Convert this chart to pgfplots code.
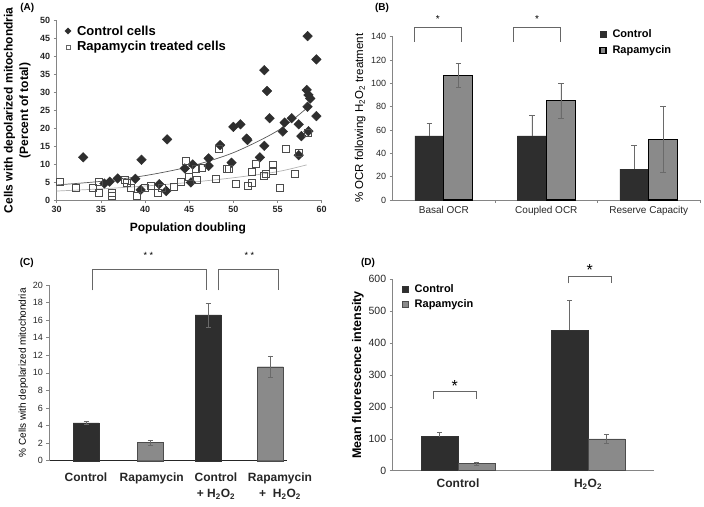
\documentclass[border=0pt]{standalone}
\usepackage{pgfplots}
\pgfplotsset{compat=1.18}
\usepackage{fontspec}
\setmainfont{Liberation Sans}
\definecolor{darkbar}{HTML}{2E2E2E}
\definecolor{graybar}{HTML}{8A8A8A}
\definecolor{axgray}{HTML}{858585}
\definecolor{errgray}{HTML}{6A6A6A}
\pgfplotsset{
  base/.style={scale only axis, axis lines*=left, clip=false,
    axis line style={axgray, line width=0.6pt},
    tick style={axgray, line width=0.6pt}, tick align=outside, major tick length=3pt,
    /pgf/number format/assume math mode=true,
    tick label style={text=black!85}},
  legdiam/.style={legend image code/.code={\draw[##1, mark size=2.2pt] plot coordinates {(4pt,0pt)};}},
  legsq/.style={legend image code/.code={\draw[##1, mark size=2.2pt, mark options={fill=black!30, draw=black!60}] plot coordinates {(4pt,0pt)};}},
  legbox/.style={legend image code/.code={\draw[##1] (0pt,-3pt) rectangle (6pt,3pt);}},
  legsp/.style={legend style={/tikz/every odd column/.append style={column sep=4pt}}},
}
\begin{document}
\begin{tikzpicture}
\useasboundingbox (0,0) rectangle (704pt,506pt);
% ---------------- Panel A ----------------
\begin{axis}[base, at={(56.7pt,306pt)}, anchor=south west, width=265pt, height=179.3pt,
  xmin=30, xmax=60, ymin=0, ymax=50, xtick={30,35,...,60}, ytick={0,5,...,50},
  tick label style={font=\fontsize{9pt}{10pt}\selectfont\bfseries},
  xlabel={Population doubling},
  xlabel style={font=\fontsize{12pt}{14pt}\selectfont\bfseries, at={(axis description cs:0.495,-0.156)}, anchor=center},
  ylabel={Cells with depolarized mitochondria\\(Percent of total)},
  ylabel style={align=center, font=\fontsize{12pt}{15.5pt}\selectfont\bfseries, at={(axis description cs:-0.149,0.5)}, anchor=center},
  legend style={at={(axis description cs:0.03,0.985)}, anchor=north west, draw=none, fill=none,
    font=\fontsize{13pt}{15pt}\selectfont\bfseries, row sep=1pt, inner sep=0pt},
  legend cell align=left, legsp]
\addplot[only marks, mark=square*, mark size=3.4pt, mark options={rotate=45, fill=darkbar, draw=darkbar}, legdiam]
coordinates {
(33.0,11.9) (35.4,4.6) (36.0,5.1) (36.9,6.0) (38.9,5.9) (39.5,2.8) (39.6,11.2)
(41.6,4.4) (42.4,2.5) (42.5,16.9) (44.5,8.8) (45.4,9.9) (45.2,4.9) (47.2,11.6)
(47.2,9.5) (48.5,15.3) (49.8,10.4) (50.0,20.4) (50.8,21.1) (51.5,17.1) (51.6,16.7)
(53.0,11.9) (53.5,15.1) (53.5,36.2) (53.8,30.4) (54.1,22.8) (55.6,19.1) (55.8,21.6)
(56.6,22.8) (57.4,21.1) (57.4,12.5) (57.7,17.8) (58.3,30.7) (58.4,45.7) (58.4,26.0)
(58.5,29.3) (58.5,19.2) (58.7,28.3) (59.4,39.2) (59.4,23.4)
};
\addlegendentry{Control cells}
\addplot[only marks, mark=square, mark size=3.5pt, mark options={draw=black!70, fill=white, line width=0.6pt}, legsq]
coordinates {
(30.3,5.1) (32.2,3.5) (34.1,3.3) (34.8,5.1) (34.8,1.9) (36.2,1.9) (36.2,1.1)
(37.7,5.6) (37.9,4.8) (38.4,3.5) (39.1,1.1) (40.0,3.5) (40.7,3.9) (41.5,2.0)
(41.9,3.4) (43.3,3.7) (44.0,5.1) (44.6,11.0) (45.0,6.5) (45.7,8.6) (45.9,5.6)
(46.4,9.0) (48.0,6.0) (48.3,14.4) (49.2,8.6) (49.5,8.6) (50.3,4.6) (51.6,4.0)
(52.1,4.8) (52.1,7.9) (52.5,10.0) (53.5,6.7) (53.7,7.2) (54.5,9.8) (54.5,8.2)
(55.2,3.5) (55.9,14.2) (56.9,7.4) (57.4,13.2) (58.4,18.6)
};
\addlegendentry{Rapamycin treated cells}
\addplot[smooth, no marks, black!65, line width=0.7pt, forget plot] coordinates {
(30,4.2) (35,5.2) (40,6.8) (45,9.3) (50,13.2) (55,19.3) (58.5,26.0)};
\addplot[smooth, no marks, black!30, line width=0.7pt, forget plot] coordinates {
(30,2.5) (35,3.1) (40,3.9) (45,4.9) (50,6.2) (55,7.9) (58.3,9.8)};
\end{axis}
% ---------------- Panel B ----------------
\begin{axis}[base, at={(392.7pt,306pt)}, anchor=south west, width=307.3pt, height=163.3pt,
  ymin=0, ymax=140, ytick={0,20,...,140}, xmin=-0.5, xmax=2.5,
  xtick={0,1,2}, xticklabels={Basal OCR, Coupled OCR, Reserve Capacity},
  major x tick style={draw=none}, minor xtick={0.5,1.5,2.5},
  y tick label style={font=\fontsize{9pt}{10pt}\selectfont},
  x tick label style={font=\fontsize{10pt}{12pt}\selectfont},
  ylabel={\% OCR following H\textsubscript{2}O\textsubscript{2} treatment},
  ylabel style={font=\fontsize{11.5pt}{13pt}\selectfont, at={(axis description cs:-0.106,0.5)}, anchor=center},
  ybar=0pt, bar width=29pt,
  legend style={at={(axis description cs:0.672,1.06)}, anchor=north west, draw=none, fill=none,
    font=\fontsize{11pt}{13pt}\selectfont\bfseries, row sep=3pt, inner sep=0pt},
  legend cell align=left, legbox, legsp]
\addplot[fill=darkbar, draw=darkbar, error bars/.cd, y dir=plus, y explicit,
  error bar style={errgray, line width=0.5pt}, error mark options={rotate=90, mark size=2.8pt, errgray}]
coordinates {(0,55) +- (0,11) (1,55) +- (0,18) (2,26.5) +- (0,20.5)};
\addlegendentry{Control}
\addplot[fill=graybar, draw=black, line width=1.1pt, error bars/.cd, y dir=both, y explicit,
  error bar style={errgray, line width=0.5pt}, error mark options={rotate=90, mark size=2.8pt, errgray}]
coordinates {(0,107) +- (0,10) (1,85) +- (0,15) (2,52) +- (0,28)};
\addlegendentry{Rapamycin}
\draw[black!60, line width=0.7pt] (axis cs:-0.285,135.7) |- (axis cs:0.17,148) -- (axis cs:0.17,135.7);
\draw[black!60, line width=0.7pt] (axis cs:0.68,135.7) |- (axis cs:1.14,148) -- (axis cs:1.14,135.7);
\node[font=\fontsize{10pt}{12pt}\selectfont] at (axis cs:-0.06,155) {*};
\node[font=\fontsize{10pt}{12pt}\selectfont] at (axis cs:0.91,155) {*};
\end{axis}
% ---------------- Panel C ----------------
\begin{axis}[base, at={(49.3pt,45.3pt)}, anchor=south west, width=237.7pt, height=175.7pt,
  xmin=0, xmax=237.7, ymin=0, ymax=20, ytick={0,2,...,20},
  xtick={36.7,102.4,166.7,230.7},
  xticklabels={Control, Rapamycin, Control\\+ H\textsubscript{2}O\textsubscript{2}, Rapamycin\\+\ \ H\textsubscript{2}O\textsubscript{2}},
  x tick label style={font=\fontsize{12pt}{16pt}\selectfont\bfseries, align=center, text=black!85, yshift=-6pt},
  y tick label style={font=\fontsize{9pt}{10pt}\selectfont},
  x axis line style={black!85, line width=1.5pt}, major x tick style={draw=none},
  ylabel={\% Cells with depolarized mitochondria},
  ylabel style={font=\fontsize{10pt}{12pt}\selectfont, at={(axis description cs:-0.109,0.5)}, anchor=center},
  ybar, bar width=26pt]
\addplot[bar shift=0pt, fill=darkbar, draw=black!80, error bars/.cd, y dir=both, y explicit,
  error bar style={errgray, line width=0.5pt}, error mark options={rotate=90, mark size=2.5pt, errgray}]
coordinates {(36.7,4.3) +- (0,0.15) (158.7,16.6) +- (0,1.35)};
\addplot[bar shift=0pt, fill=graybar, draw=black!70, error bars/.cd, y dir=both, y explicit,
  error bar style={errgray, line width=0.5pt}, error mark options={rotate=90, mark size=2.5pt, errgray}]
coordinates {(100.7,2.05) +- (0,0.25) (221,10.7) +- (0,1.25)};
\draw[black!60, line width=0.7pt] (axis cs:43.4,19.4) |- (axis cs:156.7,21.8) -- (axis cs:156.7,19.4);
\draw[black!60, line width=0.7pt] (axis cs:169,19.4) |- (axis cs:229,21.8) -- (axis cs:229,19.4);
\node[font=\fontsize{9pt}{10pt}\selectfont] at (axis cs:99,23.4) {* *};
\node[font=\fontsize{9pt}{10pt}\selectfont] at (axis cs:200,23.4) {* *};
\end{axis}
% ---------------- Panel D ----------------
\begin{axis}[base, at={(392.7pt,35.3pt)}, anchor=south west, width=261pt, height=191.4pt,
  xmin=0, xmax=261, ymin=0, ymax=600, ytick={0,100,...,600},
  xtick={65.3,195.3}, xticklabels={Control, H\textsubscript{2}O\textsubscript{2}},
  major x tick style={draw=none},
  x tick label style={font=\fontsize{12pt}{14pt}\selectfont\bfseries, yshift=-2pt},
  y tick label style={font=\fontsize{10.5pt}{12pt}\selectfont},
  ylabel={Mean fluorescence intensity},
  ylabel style={font=\fontsize{12.5pt}{14pt}\selectfont\bfseries, at={(axis description cs:-0.133,0.5)}, anchor=center},
  ybar, bar width=36.7pt,
  legend style={at={(axis description cs:0.036,0.985)}, anchor=north west, draw=none, fill=none,
    font=\fontsize{11pt}{13pt}\selectfont\bfseries, row sep=2pt, inner sep=0pt},
  legend cell align=left, legbox, legsp]
\addplot[bar shift=0pt, fill=darkbar, draw=black!80, error bars/.cd, y dir=plus, y explicit,
  error bar style={errgray, line width=0.5pt}, error mark options={rotate=90, mark size=2.5pt, errgray}]
coordinates {(47,107) +- (0,13) (177,441) +- (0,94)};
\addlegendentry{Control}
\addplot[bar shift=0pt, fill=graybar, draw=black!70, error bars/.cd, y dir=both, y explicit,
  error bar style={errgray, line width=0.5pt}, error mark options={rotate=90, mark size=2.5pt, errgray}]
coordinates {(83.7,22) +- (0,5) (213.7,100) +- (0,13)};
\addlegendentry{Rapamycin}
\draw[black!60, line width=0.7pt] (axis cs:40.3,224.7) |- (axis cs:83.6,247.6) -- (axis cs:83.6,224.7);
\draw[black!60, line width=0.7pt] (axis cs:175.3,587) |- (axis cs:218.6,610) -- (axis cs:218.6,587);
\node[font=\fontsize{16pt}{18pt}\selectfont] at (axis cs:62,265) {*};
\node[font=\fontsize{16pt}{18pt}\selectfont] at (axis cs:197,628) {*};
\end{axis}
% panel letters
\node[font=\fontsize{10pt}{12pt}\selectfont\bfseries] at (27.3pt,497.7pt) {(A)};
\node[font=\fontsize{10pt}{12pt}\selectfont\bfseries] at (382pt,497.7pt) {(B)};
\node[font=\fontsize{10pt}{12pt}\selectfont\bfseries] at (26.7pt,242.7pt) {(C)};
\node[font=\fontsize{10pt}{12pt}\selectfont\bfseries] at (368pt,242.7pt) {(D)};
\end{tikzpicture}
\end{document}
